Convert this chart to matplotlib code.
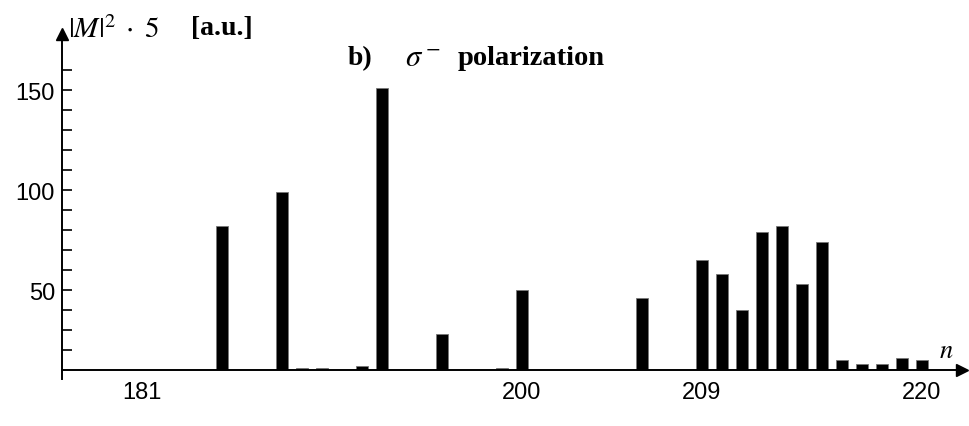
import matplotlib.pyplot as plt

# transition strengths, sigma- polarization
n_values = [185, 188, 189, 190, 192, 193, 196, 199, 200, 206,
            209, 210, 211, 212, 213, 214, 215, 216, 217, 218, 219, 220]
m2_values = [82, 99, 11, 11, 12, 151, 28, 11, 50, 46,
             65, 58, 40, 79, 82, 53, 74, 15, 13, 13, 16, 15]

x_ticks = [181, 200, 209, 220]
y_ticks = [50, 100, 150]

plt.rcParams['mathtext.fontset'] = 'stix'

fig = plt.figure(figsize=(9.7, 4.27), dpi=100)
ax = fig.add_axes([0.0639, 0.1311, 0.9279, 0.7869])

ax.bar(n_values, m2_values, width=0.6, color='black', edgecolor='#777777', linewidth=0.6)

ax.set_xlim(177, 222)
ax.set_ylim(10, 178)

# axes look: only left and bottom, arrows at the ends
for side in ['top', 'right']:
    ax.spines[side].set_visible(False)
ax.spines['left'].set_linewidth(1.4)
ax.spines['bottom'].set_linewidth(1.4)
ax.spines['left'].set_bounds(5.5, 178)
ax.plot(1, 0, '>', color='black', markersize=9, transform=ax.transAxes, clip_on=False)
ax.plot(0, 1, '^', color='black', markersize=9, transform=ax.transAxes, clip_on=False)

ax.set_xticks(x_ticks)
ax.set_xticklabels([str(t) for t in x_ticks], family='Liberation Sans', fontsize=17)
ax.tick_params(axis='x', length=0, pad=8)

ax.set_yticks(y_ticks)
ax.set_yticks(list(range(20, 170, 10)), minor=True)
ax.set_yticklabels([str(t) for t in y_ticks], family='Liberation Sans', fontsize=17)
ax.tick_params(axis='y', which='both', direction='in', length=7, width=1.2, pad=5)

# labels
fig.text(0.070, 0.930, r'$\left|M\right|^2\;\cdot\;5$', fontsize=21, va='center', ha='left')
fig.text(0.197, 0.933, '[a.u.]', family='Liberation Serif', fontweight='bold',
         fontsize=20, va='center', ha='left')
fig.text(0.358, 0.862, 'b)', family='Liberation Serif', fontweight='bold',
         fontsize=20, va='center', ha='left')
fig.text(0.418, 0.862, r'$\sigma^-$', fontsize=22, va='center', ha='left')
fig.text(0.472, 0.862, 'polarization', family='Liberation Serif', fontweight='bold',
         fontsize=20.5, va='center', ha='left')
fig.text(0.976, 0.178, r'$n$', fontsize=19, va='center', ha='center')

fig.savefig('out.png', dpi=100)
